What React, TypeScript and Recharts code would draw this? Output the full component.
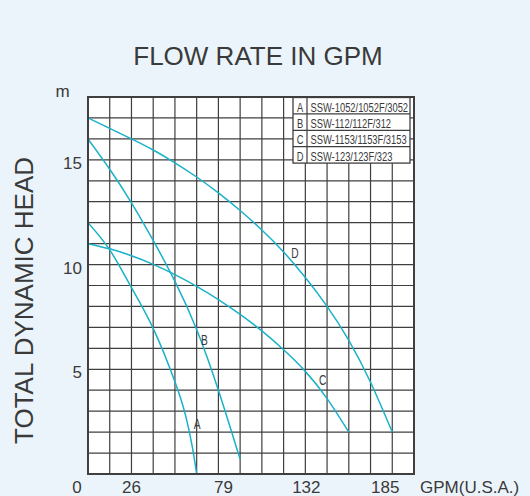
import React from 'react';
import { LineChart, Line, XAxis, YAxis, CartesianGrid, ReferenceArea, ReferenceDot } from 'recharts';

// flow in L/min (grid every 50), head in m
const flowA = [0, 50, 100, 150, 200, 225, 240, 250];
const headA = [12, 10.7, 8.9, 6.95, 4.4, 2.75, 1.3, 0];
const flowB = [0, 50, 100, 150, 200, 250, 300, 350];
const headB = [16, 14.55, 12.95, 11.15, 9.2, 6.9, 4.0, 0.7];
const flowC = [0, 50, 100, 150, 200, 250, 300, 350, 400, 450, 500, 550, 600];
const headC = [11, 10.75, 10.42, 10.01, 9.52, 8.96, 8.33, 7.62, 6.83, 5.93, 4.9, 3.6, 2.0];
const flowD = [0, 50, 100, 150, 200, 250, 300, 350, 400, 450, 500, 550, 600, 650, 700];
const headD = [17, 16.5, 16.0, 15.47, 14.86, 14.18, 13.42, 12.58, 11.65, 10.6, 9.38, 8.0, 6.38, 4.38, 2.0];

const curveNames = ['A', 'B', 'C', 'D'];
const modelNames = ['SSW-1052/1052F/3052', 'SSW-112/112F/312', 'SSW-1153/1153F/3153', 'SSW-123/123F/323'];
const curveLabelFlow = [251, 268, 540, 476];
const curveLabelHead = [2.4, 6.4, 4.5, 10.55];

const xGridTicks = [0, 50, 100, 150, 200, 250, 300, 350, 400, 450, 500, 550, 600, 650, 700, 750];
const xLabelAt = [0, 100, 300, 500, 700];
const xLabelText = ['0', '26', '79', '132', '185'];
const xLabelNudge = [-11, 0, 5, 1, -7];
const yGridTicks = [0, 1, 2, 3, 4, 5, 6, 7, 8, 9, 10, 11, 12, 13, 14, 15, 16, 17, 18];
const yLabelAt = [5, 10, 15];

const toPoints = (flow: number[], head: number[]) => flow.map((f, i) => ({ flow: f, head: head[i] }));
const series = [toPoints(flowA, headA), toPoints(flowB, headB), toPoints(flowC, headC), toPoints(flowD, headD)];

const FONT = '"Liberation Sans", Arial, Helvetica, sans-serif';
const TEXT = '#3a3a3a';
const CURVE = '#19b2c8';
const GRID = '#3f3f3f';

const XTick = (props: any) => {
  const { x, y, payload } = props;
  const i = xLabelAt.indexOf(payload.value);
  if (i < 0) return <g />;
  return (
    <text x={x + xLabelNudge[i]} y={y} dy="0.71em" textAnchor="middle" fontSize={17} fill={TEXT} fontFamily={FONT}>
      {xLabelText[i]}
    </text>
  );
};

const YTick = (props: any) => {
  const { x, y, payload } = props;
  if (!yLabelAt.includes(payload.value)) return <g />;
  return (
    <text x={x} y={y + 3} dy="0.355em" textAnchor="end" fontSize={17} fill={TEXT} fontFamily={FONT}>
      {payload.value}
    </text>
  );
};

const NarrowLetter = (name: string) => (props: any) => (
  <text
    transform={`translate(${props.cx},${props.cy}) scale(0.68,1)`}
    textAnchor="middle"
    dy="0.36em"
    fontSize={15}
    fill={TEXT}
    fontFamily={FONT}
  >
    {name}
  </text>
);

const Legend = () => {
  const left = 293;
  const mid = 307;
  const right = 410;
  const top = 97.5;
  const rowH = 16.4;
  return (
    <g>
      <rect x={left} y={top} width={right - left} height={rowH * 4} fill="#fff" stroke={GRID} strokeWidth={1.3} />
      <line x1={mid} y1={top} x2={mid} y2={top + rowH * 4} stroke={GRID} strokeWidth={1.2} />
      {curveNames.map((c, i) => (
        <g key={c}>
          {i > 0 && <line x1={left} y1={top + rowH * i} x2={right} y2={top + rowH * i} stroke={GRID} strokeWidth={1.2} />}
          <text transform={`translate(${(left + mid) / 2},${top + rowH * i + 14}) scale(0.72,1)`} textAnchor="middle" fontSize={13} fill={TEXT} fontFamily={FONT}>
            {c}
          </text>
          <text transform={`translate(${mid + 3.5},${top + rowH * i + 14}) scale(0.72,1)`} fontSize={13} fill={TEXT} fontFamily={FONT}>
            {modelNames[i]}
          </text>
        </g>
      ))}
    </g>
  );
};

const App: React.FC = () => {
  return (
    <div style={{ position: 'absolute', left: 0, top: 0, width: 530, height: 496, background: '#ecf4fb', overflow: 'hidden' }}>
      <LineChart width={530} height={496} margin={{ top: 97, right: 116, bottom: 0, left: 0 }}>
        <CartesianGrid fill="#fff" stroke={GRID} strokeWidth={1.2} />
        <XAxis
          type="number"
          dataKey="flow"
          domain={[0, 750]}
          ticks={xGridTicks}
          interval={0}
          height={22}
          tickLine={false}
          tickSize={6}
          tickMargin={1}
          axisLine={{ stroke: GRID, strokeWidth: 2 }}
          tick={<XTick />}
          allowDataOverflow
        />
        <YAxis
          type="number"
          domain={[0, 18]}
          ticks={yGridTicks}
          interval={0}
          width={88}
          tickLine={false}
          tickSize={6}
          tickMargin={0}
          axisLine={{ stroke: GRID, strokeWidth: 2 }}
          tick={<YTick />}
          allowDataOverflow
        />
        <ReferenceArea x1={0} x2={750} y1={0} y2={18} fill="none" stroke={GRID} strokeWidth={2} />
        {series.map((data, i) => (
          <Line
            key={curveNames[i]}
            data={data}
            dataKey="head"
            type="natural"
            stroke={CURVE}
            strokeWidth={1.5}
            dot={false}
            isAnimationActive={false}
          />
        ))}
        {curveNames.map((c, i) => (
          <ReferenceDot key={c} x={curveLabelFlow[i]} y={curveLabelHead[i]} r={0} shape={NarrowLetter(c)} />
        ))}
      </LineChart>
      <svg width={530} height={496} style={{ position: 'absolute', left: 0, top: 0, pointerEvents: 'none' }}>
        <text x={258} y={65} textAnchor="middle" fontSize={26} fill={TEXT} fontFamily={FONT}>
          FLOW RATE IN GPM
        </text>
        <text transform="translate(33,300.5) rotate(-90)" textAnchor="middle" fontSize={26} fill={TEXT} fontFamily={FONT}>
          TOTAL DYNAMIC HEAD
        </text>
        <text x={62.5} y={97} textAnchor="middle" fontSize={17} fill={TEXT} fontFamily={FONT}>
          m
        </text>
        <text x={420} y={493} fontSize={17} fill={TEXT} fontFamily={FONT}>
          GPM(U.S.A.)
        </text>
        <Legend />
      </svg>
    </div>
  );
};

export default App;
